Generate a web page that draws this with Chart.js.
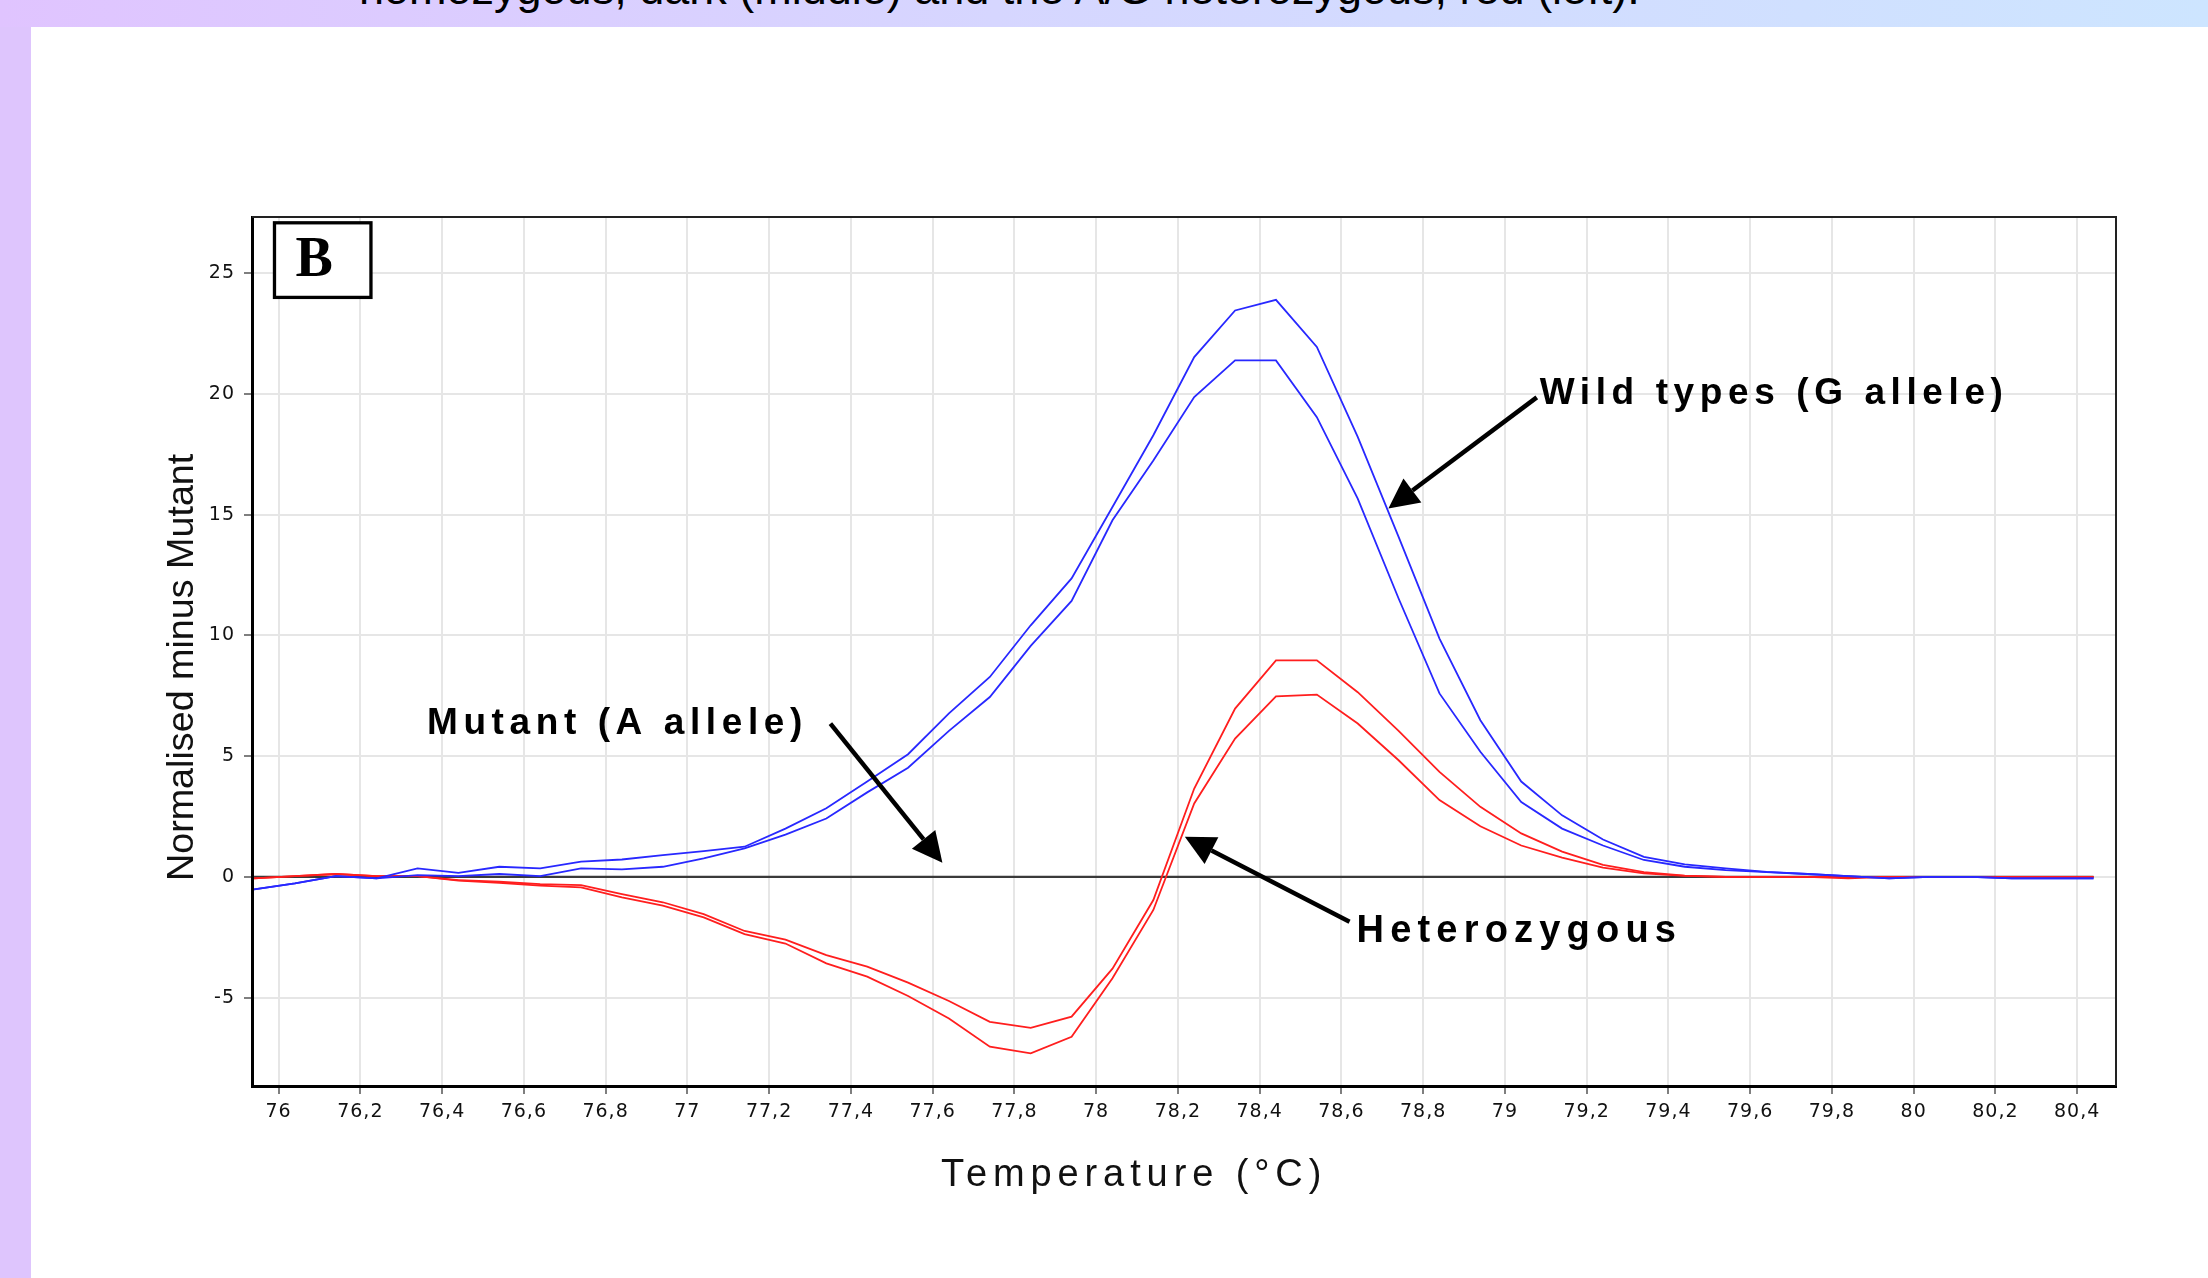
<!DOCTYPE html>
<html>
<head>
<meta charset="utf-8">
<title>Normalised melting curves</title>
<script src="https://cdn.jsdelivr.net/npm/chart.js@4.4.1/dist/chart.umd.min.js"></script>
<style>
  html, body { margin: 0; padding: 0; }
  body { width: 2208px; height: 1278px; position: relative; overflow: hidden; background: #fff; }
  #strip { position: absolute; left: 0; top: 0; width: 31px; height: 1278px; background: #dec5fd; }
  #band {
    position: absolute; left: 0; top: 0; width: 2208px; height: 27px; overflow: hidden;
    background: linear-gradient(to right, #e0c4ff 0%, #d6d6ff 45%, #cde5ff 100%);
  }
  #caption {
    position: absolute; left: 359px; top: -37px; line-height: 45px;
    font: 45px "Liberation Sans", Arial, sans-serif; white-space: nowrap; color: #000;
  }
  #chart { position: absolute; left: 0; top: 0; }
</style>
</head>
<body>
<div id="strip"></div>
<div id="band"><div id="caption">homozygous, dark (middle) and the A/G heterozygous, red (left).</div></div>
<canvas id="chart" width="2208" height="1278"></canvas>
<script>
// melting temperatures (°C) shared by every trace
const temps = [
  75.94, 76.04, 76.14, 76.24, 76.34, 76.44, 76.54, 76.64, 76.74, 76.84,
  76.94, 77.04, 77.14, 77.24, 77.34, 77.44, 77.54, 77.64, 77.74, 77.84,
  77.94, 78.04, 78.14, 78.24, 78.34, 78.44, 78.54, 78.64, 78.74, 78.84,
  78.94, 79.04, 79.14, 79.24, 79.34, 79.44, 79.54, 79.64, 79.74, 79.84,
  79.94, 80.04, 80.14, 80.24, 80.34, 80.44
];

// wild type (G allele), two samples
const wildA = [
  -0.52, -0.27, 0.03, -0.06, 0.35, 0.17, 0.42, 0.35, 0.63, 0.72,
  0.90, 1.07, 1.25, 2.00, 2.84, 3.95, 5.08, 6.77, 8.28, 10.42,
  12.36, 15.32, 18.29, 21.53, 23.46, 23.90, 21.95, 18.22, 14.08, 9.87,
  6.49, 3.95, 2.55, 1.55, 0.83, 0.52, 0.35, 0.21, 0.12, 0.03,
  -0.06, 0.00, 0.00, -0.06, -0.06, -0.06
];
const wildB = [
  -0.52, -0.27, 0.03, -0.06, 0.07, 0.03, 0.12, 0.03, 0.35, 0.31,
  0.42, 0.77, 1.18, 1.75, 2.42, 3.50, 4.52, 6.05, 7.45, 9.57,
  11.43, 14.77, 17.25, 19.87, 21.39, 21.39, 19.04, 15.67, 11.53, 7.60,
  5.18, 3.10, 2.00, 1.30, 0.70, 0.42, 0.28, 0.20, 0.12, 0.03,
  -0.06, 0.00, 0.00, -0.06, -0.06, -0.06
];

// heterozygous, two samples
const hetA = [
  -0.06, 0.03, 0.12, 0.03, 0.03, -0.13, -0.20, -0.30, -0.34, -0.71,
  -1.05, -1.54, -2.24, -2.60, -3.24, -3.72, -4.38, -5.14, -6.00, -6.25,
  -5.79, -3.80, -0.96, 3.66, 6.97, 8.97, 8.97, 7.65, 6.05, 4.35,
  2.90, 1.80, 1.05, 0.50, 0.20, 0.05, 0.00, 0.00, 0.00, -0.06,
  0.00, 0.00, 0.00, 0.00, 0.00, 0.00
];
const hetB = [
  -0.06, 0.03, 0.12, 0.03, 0.03, -0.15, -0.25, -0.36, -0.43, -0.85,
  -1.19, -1.68, -2.37, -2.76, -3.58, -4.13, -4.93, -5.86, -7.03, -7.31,
  -6.62, -4.20, -1.37, 3.04, 5.73, 7.48, 7.55, 6.35, 4.83, 3.18,
  2.10, 1.30, 0.80, 0.38, 0.15, 0.04, 0.00, 0.00, 0.00, 0.00,
  0.00, 0.00, 0.00, 0.00, 0.00, 0.00
];

// mutant (A allele) is the reference, so it sits on zero
const mutant = [
  0, 0, 0, 0, 0, 0, 0, 0, 0, 0,
  0, 0, 0, 0, 0, 0, 0, 0, 0, 0,
  0, 0, 0, 0, 0, 0, 0, 0, 0, 0,
  0, 0, 0, 0, 0, 0, 0, 0, 0, 0,
  0, 0, 0, 0, 0, 0
];

const xTickValues = [76, 76.2, 76.4, 76.6, 76.8, 77, 77.2, 77.4, 77.6, 77.8, 78, 78.2,
  78.4, 78.6, 78.8, 79, 79.2, 79.4, 79.6, 79.8, 80, 80.2, 80.4];
const xTickLabels = ['76', '76,2', '76,4', '76,6', '76,8', '77', '77,2', '77,4', '77,6', '77,8', '78', '78,2',
  '78,4', '78,6', '78,8', '79', '79,2', '79,4', '79,6', '79,8', '80', '80,2', '80,4'];
const yTickValues = [-5, 0, 5, 10, 15, 20, 25];
const yTickLabels = ['-5', '0', '5', '10', '15', '20', '25'];

const xTitle = 'Temperature (°C)';
const yTitle = 'Normalised minus Mutant';

function toPoints(ys) {
  return temps.map((t, i) => ({ x: t, y: ys[i] }));
}

function arrow(ctx, x1, y1, x2, y2) {
  const ang = Math.atan2(y2 - y1, x2 - x1);
  const head = 30, half = 15;
  const bx = x2 - head * Math.cos(ang);
  const by = y2 - head * Math.sin(ang);
  ctx.lineWidth = 4.5;
  ctx.beginPath();
  ctx.moveTo(x1, y1);
  ctx.lineTo(bx, by);
  ctx.stroke();
  ctx.beginPath();
  ctx.moveTo(x2, y2);
  ctx.lineTo(bx + half * Math.sin(ang), by - half * Math.cos(ang));
  ctx.lineTo(bx - half * Math.sin(ang), by + half * Math.cos(ang));
  ctx.closePath();
  ctx.fill();
}

// frame, panel letter, callouts and axis titles
const decorations = {
  id: 'decorations',
  beforeDraw(chart) {
    chart.ctx.letterSpacing = '1px';
  },
  afterDraw(chart) {
    const ctx = chart.ctx;
    const { left, right, top, bottom } = chart.chartArea;
    const sx = chart.scales.x, sy = chart.scales.y;
    const px = v => sx.getPixelForValue(v);
    const py = v => sy.getPixelForValue(v);

    ctx.save();
    ctx.letterSpacing = '0px';
    ctx.strokeStyle = '#222';
    ctx.lineWidth = 2;
    ctx.beginPath();
    ctx.moveTo(left, top);
    ctx.lineTo(right, top);
    ctx.lineTo(right, bottom);
    ctx.stroke();

    // panel letter box
    const bx0 = px(75.99), bx1 = px(76.226), by0 = py(27.09), by1 = py(24.0);
    ctx.fillStyle = '#fff';
    ctx.fillRect(bx0, by0, bx1 - bx0, by1 - by0);
    ctx.strokeStyle = '#000';
    ctx.lineWidth = 3.3;
    ctx.strokeRect(bx0, by0, bx1 - bx0, by1 - by0);
    ctx.fillStyle = '#000';
    ctx.font = 'bold 56px "Liberation Serif", "Times New Roman", serif';
    ctx.textAlign = 'center';
    ctx.textBaseline = 'alphabetic';
    ctx.fillText('B', px(76.087), py(24.87));

    // callouts
    ctx.textAlign = 'left';
    ctx.font = 'bold 37px "Liberation Sans", Arial, sans-serif';
    ctx.letterSpacing = '5.6px';
    ctx.fillText('Wild types (G allele)', px(79.085), py(19.6));
    ctx.fillText('Mutant (A allele)', px(76.363), py(5.93));
    ctx.font = 'bold 38px "Liberation Sans", Arial, sans-serif';
    ctx.letterSpacing = '6.2px';
    ctx.fillText('Heterozygous', px(78.637), py(-2.69));

    ctx.strokeStyle = '#000';
    ctx.fillStyle = '#000';
    arrow(ctx, px(79.078), py(19.86), px(78.715), py(15.26));
    arrow(ctx, px(77.35), py(6.35), px(77.624), py(0.59));
    arrow(ctx, px(78.62), py(-1.86), px(78.217), py(1.66));

    // axis titles
    ctx.fillStyle = '#111';
    ctx.font = '38px "Liberation Sans", Arial, sans-serif';
    ctx.letterSpacing = '5.9px';
    ctx.fillText(xTitle, left + 689, bottom + 100);

    ctx.letterSpacing = '0px';
    ctx.font = '37.7px "Liberation Sans", Arial, sans-serif';
    ctx.translate(left - 59, top + 664);
    ctx.rotate(-Math.PI / 2);
    ctx.fillText(yTitle, 0, 0);
    ctx.restore();
  }
};

const gridColor = '#e6e6e6';
const tickFont = { family: '"DejaVu Sans", sans-serif', size: 19 };

new Chart(document.getElementById('chart'), {
  type: 'line',
  data: {
    datasets: [
      { label: 'Wild type 1', data: toPoints(wildA), borderColor: 'rgb(40,40,255)' },
      { label: 'Wild type 2', data: toPoints(wildB), borderColor: 'rgb(40,40,255)' },
      { label: 'Heterozygous 1', data: toPoints(hetA), borderColor: 'rgb(255,30,30)' },
      { label: 'Heterozygous 2', data: toPoints(hetB), borderColor: 'rgb(255,30,30)' },
      { label: 'Mutant', data: toPoints(mutant), borderColor: '#3a3a3a', borderWidth: 2.2, order: 10 }
    ]
  },
  options: {
    responsive: false,
    animation: false,
    devicePixelRatio: 1,
    layout: { padding: { left: 0, top: 217, right: 92, bottom: 0 } },
    elements: {
      point: { radius: 0 },
      line: { borderWidth: 1.8, tension: 0, fill: false }
    },
    plugins: {
      legend: { display: false },
      tooltip: { enabled: false }
    },
    scales: {
      x: {
        type: 'linear',
        min: 75.935,
        max: 80.495,
        afterBuildTicks: s => { s.ticks = xTickValues.map(v => ({ value: v })); },
        afterFit: s => { s.height = 192; s.paddingLeft = 0; s.paddingRight = 0; },
        ticks: {
          autoSkip: false,
          maxRotation: 0,
          padding: 7,
          color: '#111',
          font: tickFont,
          callback: (v, i) => xTickLabels[i]
        },
        grid: { color: gridColor, lineWidth: 2, tickLength: 8, tickColor: '#555', tickWidth: 1.5 },
        border: { color: '#000', width: 3 }
      },
      y: {
        type: 'linear',
        min: -8.66,
        max: 27.33,
        afterBuildTicks: s => { s.ticks = yTickValues.map(v => ({ value: v })); },
        afterFit: s => { s.width = 252; s.paddingTop = 0; s.paddingBottom = 0; },
        ticks: {
          padding: 9,
          color: '#111',
          font: tickFont,
          callback: (v, i) => yTickLabels[i]
        },
        grid: { color: gridColor, lineWidth: 2, tickLength: 8, tickColor: '#555', tickWidth: 1.5 },
        border: { color: '#000', width: 3 }
      }
    }
  },
  plugins: [decorations]
});
</script>
</body>
</html>
